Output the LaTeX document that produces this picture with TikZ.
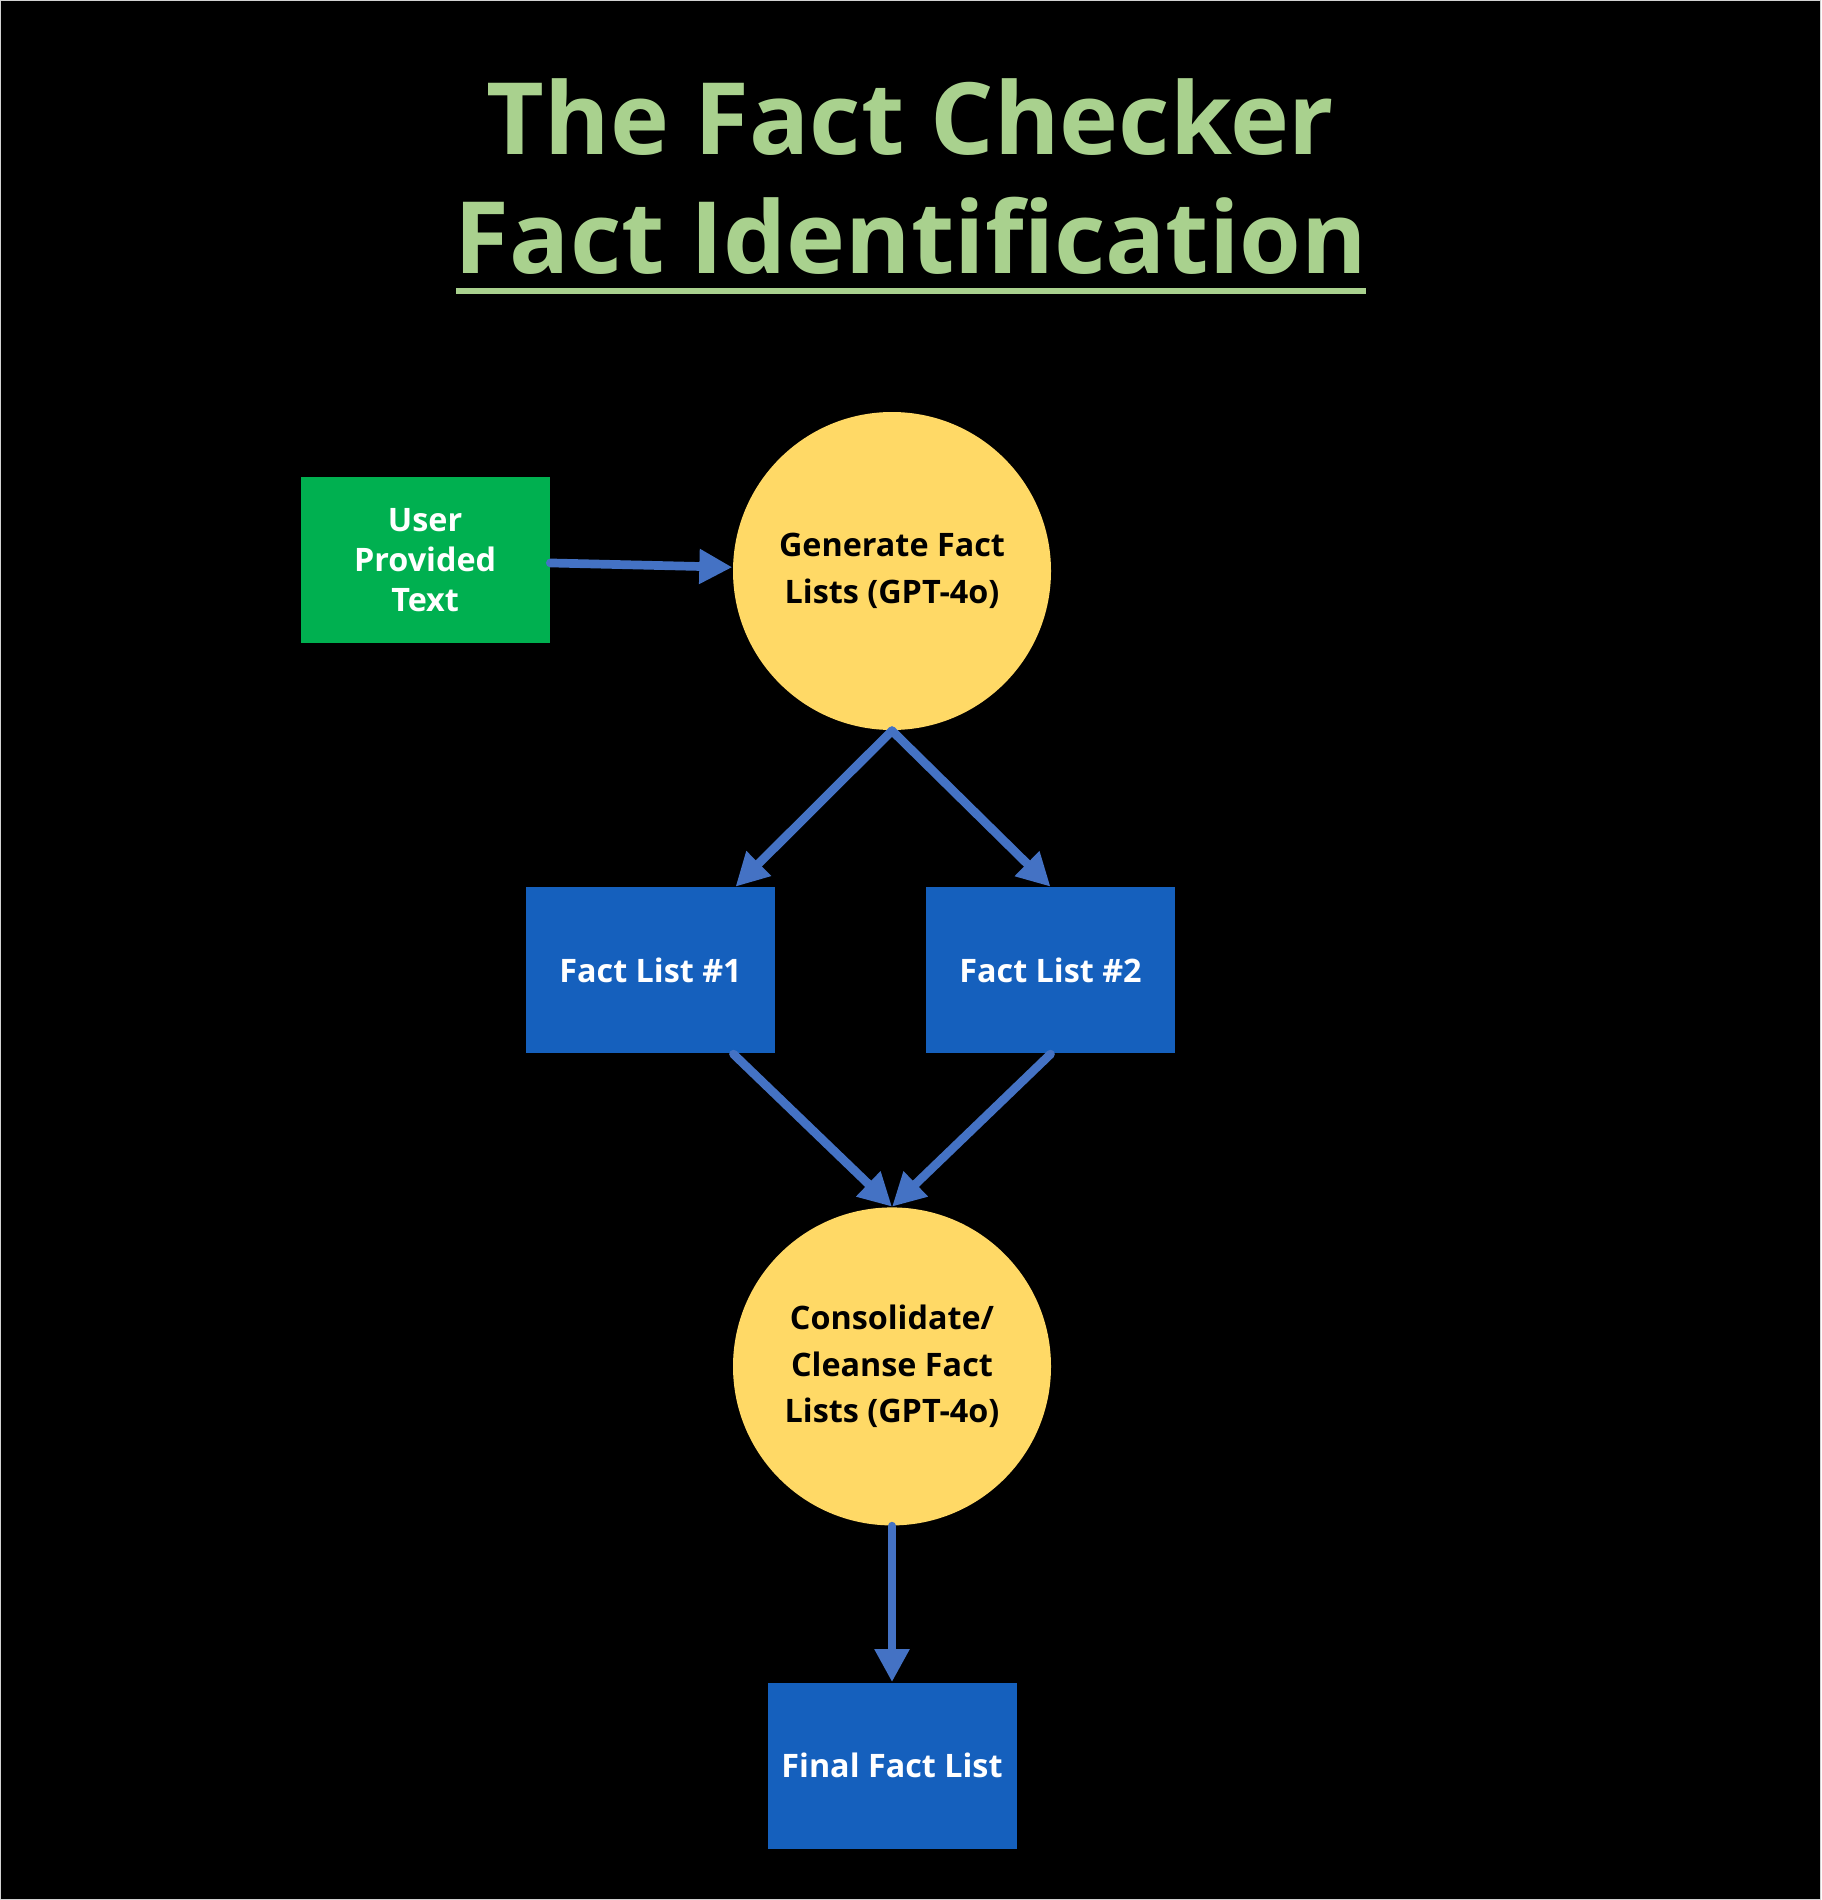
\documentclass[tikz,border=0pt]{standalone}
\usepackage{fontspec}
\setmainfont{Open Sans}
\usepackage{xcolor}
\usepackage{tikz}
\usetikzlibrary{positioning,shapes.geometric,arrows.meta}

\definecolor{titlegreen}{HTML}{A9D18E}
\definecolor{inputgreen}{HTML}{00B050}
\definecolor{procyellow}{HTML}{FFD966}
\definecolor{listblue}{HTML}{1560BD}
\definecolor{arrowblue}{HTML}{4472C4}

\begin{document}
\begin{tikzpicture}[node distance={15.6mm},
    main/.style = {rectangle, fill=listblue, text=white, minimum width=24.9mm, minimum height=16.6mm, inner sep=0pt, align=center, font=\fontsize{9.2}{11.4}\selectfont\bfseries},
    proc/.style = {circle, fill=procyellow, text=black, minimum size=31.8mm, inner sep=0pt, align=center, font=\fontsize{9.2}{13.3}\selectfont\bfseries},
    flow/.style = {draw=arrowblue, line width=0.87mm, line cap=round, -{Triangle[length=3.3mm, width=3.3mm]}},
    title/.style = {text=titlegreen, inner sep=0pt, anchor=base, font=\fontsize{28.4}{34}\selectfont\bfseries}]
    % background and frame
    \fill[black] (0,0) rectangle (18.21,-19.00);
    \draw[gray!35, line width=0.1mm] (0.01,-0.01) rectangle (18.20,-18.99);
    % title
    \node[title] (t1) at (9.105,-1.55) {The Fact Checker};
    \node[title] (t2) at (9.11,-2.74) {Fact Identification};
    \draw[titlegreen, line width=0.55mm] ([xshift=0.02cm, yshift=-1.7mm]t2.base west) -- ([xshift=-0.02cm, yshift=-1.7mm]t2.base east);
    % flow
    \node[proc] (2) at (8.92,-5.71) {Generate Fact\\Lists (GPT-4o)};
    \node[main, fill=inputgreen] (1) [left=1.82cm of 2, yshift=0.11cm] {User\\Provided\\Text};
    \node[main] (3) [below=of 2, xshift=-2.415cm] {Fact List \#1};
    \node[main] (4) [below=of 2, xshift=1.585cm] {Fact List \#2};
    \node[proc] (5) [below=47.6mm of 2] {Consolidate/\\Cleanse Fact\\Lists (GPT-4o)};
    \node[main] (6) [below=of 5] {Final Fact List};
    \draw[flow] (1) -- (2);
    \draw[flow] (2.south) -- ([xshift=0.85cm]3.north);
    \draw[flow] (2.south) -- (4.north);
    \draw[flow] ([xshift=0.83cm]3.south) -- (5.north);
    \draw[flow] (4.south) -- (5.north);
    \draw[flow] (5) -- (6);
\end{tikzpicture}
\end{document}
